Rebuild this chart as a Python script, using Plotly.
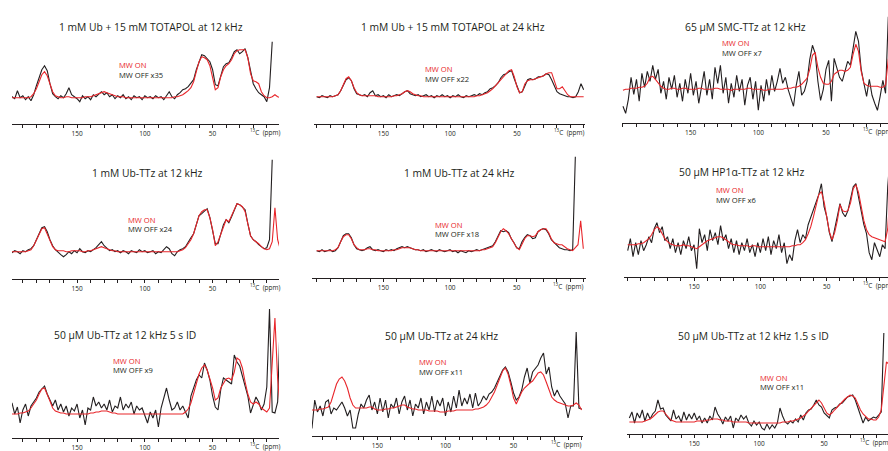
import numpy as np
import plotly.graph_objects as go

N = None  # gap in a trace

# shared 13C chemical-shift grid (ppm), 2 ppm steps from 200 down to 0
ppm = np.arange(200, -1, -2)

titles = [
    "1 mM Ub + 15 mM TOTAPOL at 12 kHz",
    "1 mM Ub + 15 mM TOTAPOL at 24 kHz",
    "65 μM SMC-TTz at 12 kHz",
    "1 mM Ub-TTz at 12 kHz",
    "1 mM Ub-TTz at 24 kHz",
    "50 μM HP1α-TTz at 12 kHz",
    "50 μM Ub-TTz at 12 kHz 5 s ID",
    "50 μM Ub-TTz at 24 kHz",
    "50 μM Ub-TTz at 12 kHz 1.5 s ID",
]
off_scale = ["x35", "x22", "x7", "x24", "x18", "x6", "x9", "x11", "x11"]

# ---- spectra (intensity above baseline), values on the ppm grid ----
ub_totapol_12_off = [
    0, 1, -1, 7, 0, 2, -2, 1, -3, 3,
    12, 20, 28, 32, 27, 14, 4, 1, -1, 2,
    0, 4, 10, 3, 1, -1, -4, 2, -1, 1,
    -2, 3, 1, 4, 6, 3, 5, 1, 3, -1,
    2, 0, 3, -1, 1, -2, 2, 0, 1, -2,
    2, 0, 1, -1, 2, 0, 1, -2, 2, 6,
    1, -1, 3, 5, 8, 9, 11, 14, 18, 28,
    36, 43, 42, 39, 36, 28, 13, 12, 21, 31,
    34, 35, 40, 46, 48, 44, 46, 49, 40, 25,
    14, 9, 5, 3, 1, -4, 10, 56, N, N,
    N]
ub_totapol_12_on = [
    0, 0, 0, 0, 0, 0, 0, 0, 1, 4,
    9, 16, 23, 26, 22, 14, 6, 2, 1, 0,
    0, 1, 1, 0, 0, 0, 0, 0, 1, 1,
    1, 2, 3, 4, 5, 6, 5, 4, 3, 2,
    1, 1, 1, 0, 0, 0, 0, 0, 0, 0,
    0, 0, 0, 0, 0, 0, 0, 0, 0, 0,
    0, 1, 1, 2, 3, 5, 7, 10, 16, 26,
    36, 41, 40, 38, 32, 20, 8, 10, 21, 28,
    32, 34, 38, 44, 47, 48, 48, 48, 40, 24,
    17, 16, 14, 6, 2, 0, 0, 1, 3, 1,
    0]

ub_totapol_24_off = [
    0, -1, 1, 0, -1, 1, 0, 1, 2, 6,
    12, 17, 19, 16, 8, 3, 2, 1, 2, 0,
    4, 6, 1, 2, 0, 1, -1, 2, 0, 1,
    2, 1, 3, 5, 6, 3, 2, 1, 2, 0,
    1, 2, 0, 1, -1, 1, 0, 2, 0, 1,
    -1, 1, 0, 2, 0, -1, 1, 0, 1, 2,
    1, 3, 2, 4, 5, 8, 9, 11, 14, 19,
    22, 23, 25, 26, 18, 10, 4, 5, 12, 17,
    18, 17, 18, 20, 20, 21, 23, 22, 17, 10,
    5, 3, 2, 1, 0, 0, -1, 0, 5, 13,
    7]
ub_totapol_24_on = [
    0, 0, 0, 0, 0, 0, 0, 1, 2, 6,
    12, 18, 20, 16, 9, 4, 2, 1, 1, 1,
    1, 1, 1, 0, 0, 0, 0, 0, 0, 1,
    1, 2, 3, 5, 6, 5, 3, 2, 1, 1,
    0, 0, 0, 0, 0, 0, 0, 0, 0, 0,
    0, 0, 0, 0, 0, 0, 0, 0, 0, 0,
    1, 1, 2, 3, 4, 6, 8, 11, 14, 18,
    21, 24, 26, 27, 20, 10, 4, 5, 13, 16,
    17, 17, 18, 19, 20, 21, 23, 24, 24, 16,
    8, 8, 10, 6, 2, 0, 0, 0, 0, 0,
    0]

smc_ttz_12_off = [
    -17, -24, -10, 12, -5, 10, -12, 16, 2, 18,
    8, 24, 10, 20, -4, 8, -10, 12, 0, 14,
    -8, 6, -12, 10, -4, 16, -6, 8, -14, 4,
    18, -6, 10, -10, 22, 6, 24, -4, 12, -14,
    6, -8, 14, -2, 10, -16, 4, 12, -10, 8,
    -21, 4, -12, 10, -6, 14, -2, 8, 21, 6,
    12, 0, -8, -17, 4, 18, -6, -2, 8, 30,
    44, 36, 8, -11, 0, 20, 29, -12, 31, 20,
    12, 8, 18, 28, 24, 40, 58, 48, 20, 6,
    -7, 10, -6, -14, -21, -7, 9, -4, 72, 72,
    40]
smc_ttz_12_on = [
    -1, 0, 0, 1, 1, 1, 2, 2, 3, 6,
    12, 13, 10, 6, 3, 1, 0, 0, 1, 1,
    0, 0, 1, 1, 0, 0, 0, 0, 1, 1,
    0, 0, 0, 0, 1, 1, 0, 0, 0, 0,
    -1, 0, 0, 0, 0, 0, 1, 1, 0, 0,
    0, 0, -1, -1, 0, 0, 0, 0, 0, 0,
    1, 1, 1, 2, 2, 3, 5, 8, 11, 20,
    34, 37, 22, 12, 6, 5, 5, 8, 15, 17,
    19, 19, 18, 19, 22, 35, 45, 38, 18, 6,
    4, 3, 3, 3, 3, 2, 2, 4, 30, 40,
    40]

ub_ttz_1mM_12_off = [
    0, -1, 1, 0, -2, 1, 0, 2, 3, 6,
    12, 18, 24, 25, 20, 12, 6, 2, -1, -3,
    -5, -3, 0, -2, 1, -1, 3, 0, -1, 1,
    0, 2, 4, 7, 10, 6, 3, 1, 2, 0,
    1, -1, 1, 0, -2, 1, 0, -1, 2, 0,
    1, -1, 0, 1, -2, 0, -1, 2, 5, 3,
    -2, -4, 0, 2, 3, 5, 10, 14, 18, 26,
    36, 38, 41, 43, 34, 22, 8, 8, 18, 27,
    32, 29, 35, 42, 48, 47, 44, 42, 28, 16,
    12, 10, 7, 5, 3, 4, 12, 92, N, N,
    N]
ub_ttz_1mM_12_on = [
    0, 0, 0, 0, 0, 0, 0, 1, 2, 6,
    12, 18, 23, 24, 18, 11, 5, 2, 1, 1,
    1, 0, 0, 1, 1, 1, 1, 0, 0, 1,
    1, 2, 3, 4, 5, 4, 3, 2, 1, 1,
    0, 0, 0, 0, 0, 0, 0, 0, 0, 0,
    0, 0, 0, 0, 0, 0, 0, 0, 0, 0,
    0, 0, 0, 1, 2, 4, 8, 12, 18, 26,
    36, 40, 42, 42, 34, 22, 6, 10, 18, 26,
    32, 30, 36, 42, 48, 47, 45, 40, 28, 16,
    12, 10, 8, 5, 3, 2, 3, 10, 44, 12,
    2]

ub_ttz_1mM_24_off = [
    0, -1, 1, -1, 0, 1, -1, 0, 3, 10,
    15, 17, 17, 13, 6, 2, 1, 0, 1, 3,
    4, 1, 0, 1, 0, -1, 1, 0, 1, 0,
    2, 3, 4, 3, 4, 3, 2, 1, 1, 0,
    1, -1, 0, 1, 0, -1, 1, 0, -1, 0,
    1, -1, 0, -2, 0, -1, -2, 0, -1, 0,
    1, 0, 1, 2, 3, 4, 5, 9, 15, 20,
    19, 20, 18, 12, 8, 3, 2, 9, 13, 16,
    15, 12, 13, 19, 21, 22, 21, 17, 11, 8,
    5, 3, 2, 1, 1, 0, 1, 94, N, N,
    N]
ub_ttz_1mM_24_on = [
    0, 0, 0, 0, 0, 0, 0, 1, 3, 9,
    14, 16, 16, 12, 6, 3, 1, 1, 1, 2,
    2, 1, 1, 0, 0, 0, 0, 0, 0, 1,
    1, 2, 3, 3, 3, 3, 2, 1, 1, 0,
    0, 0, 0, 0, 0, 0, 0, 0, 0, 0,
    0, 0, 0, 0, 0, 0, 0, 0, 0, 0,
    0, 0, 1, 1, 2, 3, 4, 8, 14, 19,
    22, 20, 17, 12, 7, 3, 1, 6, 12, 15,
    15, 14, 15, 19, 21, 22, 22, 18, 12, 8,
    7, 6, 6, 4, 2, 1, 0, 3, 6, 30,
    2]

hp1a_ttz_12_off = [
    -4, 8, -10, 4, -8, 6, -4, 2, 10, 4,
    18, 24, 14, 20, 6, 10, -2, 8, -6, 4,
    -8, 6, -2, 10, -4, 2, -22, 18, 4, 12,
    -4, 17, 6, 14, 2, 21, 6, 12, -2, 8,
    -6, 6, -8, 4, -4, 8, -6, 2, -10, 4,
    -6, 8, -4, 10, -8, 6, -2, 12, -6, 4,
    -17, -8, -14, 6, 17, 4, 12, 8, 22, 30,
    38, 46, 52, 63, 40, 30, 14, 5, 18, 28,
    43, 34, 30, 36, 48, 60, 63, 50, 38, 22,
    13, -6, -13, 4, -3, -10, 2, -2, 60, 95,
    95]
hp1a_ttz_12_on = [
    2, 2, 2, 2, 3, 3, 4, 6, 8, 12,
    17, 20, 18, 13, 8, 5, 3, 2, 1, 1,
    1, 2, 1, 1, 0, -1, -2, 0, 2, 4,
    6, 7, 8, 9, 10, 10, 9, 7, 5, 3,
    2, 2, 1, 1, 1, 1, 0, 1, 1, 0,
    0, 0, 0, 0, 0, 0, 0, 0, 0, 0,
    0, 0, 1, 1, 2, 2, 4, 7, 13, 20,
    30, 40, 52, 55, 45, 30, 15, 7, 14, 26,
    42, 36, 35, 36, 44, 58, 62, 54, 40, 26,
    17, 12, 10, 9, 8, 7, 6, 5, 18, 60,
    70]

ub_ttz_50uM_12_5s_off = [
    8, 11, 0, 7, -9, 4, 10, -2, 8, 12,
    16, 22, 25, 28, 20, 14, 8, 14, 4, 10,
    2, 8, -2, 6, 3, 10, -4, 4, -11, 6,
    4, 17, 8, 12, 6, 10, 4, 14, 2, 8,
    6, 17, 4, 10, 6, 12, 0, 8, 4, 6,
    -2, -9, 2, -4, 4, -13, 6, 17, 26, 14,
    4, 6, 12, 4, 8, 2, -4, 18, 27, 34,
    39, 36, 51, 44, 34, 18, 7, 4, 24, 36,
    34, 32, 30, 59, 52, 48, 38, 30, 18, 1,
    10, 17, 12, 4, 10, 27, 105, 2, 1, 12,
    99]
ub_ttz_50uM_12_5s_on = [
    0, 0, 0, 0, 1, 1, 2, 3, 6, 10,
    14, 20, 25, 26, 20, 13, 6, 3, 2, 1,
    1, 0, 0, 0, 0, 0, 0, 0, 0, 0,
    1, 1, 2, 2, 3, 3, 3, 2, 1, 1,
    0, 0, 0, 0, 0, 0, 0, 0, 0, 0,
    0, 0, 0, 0, 0, 0, 0, 0, 0, 0,
    0, 0, 0, 0, 0, 2, 5, 11, 20, 30,
    40, 46, 49, 44, 36, 26, 14, 16, 26, 31,
    35, 36, 34, 42, 56, 54, 46, 32, 20, 12,
    10, 12, 10, 6, 4, 2, 6, 47, 96, 35,
    4]

ub_ttz_50uM_24_off = [
    -18, -18, 10, -2, 4, -6, 8, 10, -4, 2,
    0, 4, 8, 2, -6, 0, -18, -18, -4, 6,
    2, 10, 15, 0, 8, -4, 12, -2, 10, -8,
    6, 2, 12, -4, 8, 14, 0, 10, -6, 6,
    2, 12, -4, 8, 0, 14, -2, 10, 4, 12,
    -6, 8, -2, 14, 2, 20, 4, 12, 6, 16,
    2, 17, 4, 8, 14, 10, 16, 18, 22, 28,
    35, 40, 43, 38, 28, 17, 10, 13, 20, 33,
    42, 27, 38, 42, 45, 52, 57, 36, 43, 23,
    14, 20, 14, 10, 6, -8, 4, 4, 78, 2,
    1]
ub_ttz_50uM_24_on = [
    0, 0, 0, 0, 1, 1, 2, 3, 8, 16,
    26, 31, 33, 29, 22, 12, 5, 2, 2, 2,
    2, 2, 3, 3, 1, 0, 0, 0, 1, 1,
    2, 2, 3, 4, 5, 5, 3, 2, 1, 1,
    0, 0, 0, 0, -1, -1, -1, -1, -2, -2,
    -2, -1, -1, -1, 0, 0, 0, 0, 0, 0,
    0, 1, 1, 2, 3, 5, 8, 13, 18, 25,
    33, 39, 42, 36, 25, 12, 6, 12, 18, 22,
    25, 27, 29, 33, 37, 38, 35, 28, 20, 13,
    10, 8, 7, 6, 5, 4, 4, 5, 7, 5,
    0]

ub_ttz_50uM_12_1p5s_off = [
    4, 10, -1, 9, 4, 12, 1, 9, 3, 8,
    11, 22, 13, 14, 7, 4, 1, 12, 3, 6,
    0, 10, 2, 8, 3, 9, 2, 6, -1, 4,
    -1, 6, 2, 15, 8, 4, -2, 5, 1, 6,
    -6, 4, 1, 7, 3, 6, -1, -4, 1, -3,
    0, -6, -8, -2, -7, -3, -6, -1, 14, 6,
    0, -2, 1, -1, 3, 0, 7, 2, 9, 12,
    13, 17, 22, 17, 15, 9, 6, 4, 12, 14,
    15, 18, 19, 22, 25, 26, 27, 22, 15, 7,
    -1, 5, 1, 3, 5, 4, 7, 10, 89, N,
    N]
ub_ttz_50uM_12_1p5s_on = [
    0, 0, 0, 0, 0, 0, 1, 2, 3, 5,
    8, 10, 11, 11, 8, 5, 2, 1, 0, 0,
    0, 0, 0, 0, 0, 0, 1, 1, 1, 1,
    2, 2, 3, 3, 3, 2, 2, 1, 1, 1,
    0, 0, 0, 0, 0, 0, -1, -1, -1, -1,
    -1, -1, -1, -1, -1, -1, -1, -1, -1, 0,
    0, 0, 1, 1, 2, 3, 4, 6, 8, 11,
    14, 17, 20, 22, 19, 14, 9, 7, 9, 12,
    15, 18, 21, 23, 25, 27, 26, 24, 18, 12,
    8, 5, 3, 3, 2, 2, 5, 12, 35, 60,
    58]

mw_on = [ub_totapol_12_on, ub_totapol_24_on, smc_ttz_12_on,
         ub_ttz_1mM_12_on, ub_ttz_1mM_24_on, hp1a_ttz_12_on,
         ub_ttz_50uM_12_5s_on, ub_ttz_50uM_24_on, ub_ttz_50uM_12_1p5s_on]
mw_off = [ub_totapol_12_off, ub_totapol_24_off, smc_ttz_12_off,
          ub_ttz_1mM_12_off, ub_ttz_1mM_24_off, hp1a_ttz_12_off,
          ub_ttz_50uM_12_5s_off, ub_ttz_50uM_24_off, ub_ttz_50uM_12_1p5s_off]

# ---- panel placement (pixels): left, right, ppm at left, ppm at right, axis line, baseline ----
frames = [
    (12, 279, 198, 1, 124, 97.7),
    (314, 585, 202, -1, 124, 96.7),
    (622, 888, 200.7, 4.2, 123.3, 89.3),
    (12, 279, 198, 1, 279.3, 251.7),
    (312, 586, 203.5, -2, 278.3, 250.7),
    (624, 888, 202.8, 3.8, 276.7, 246.7),
    (12, 279, 198, 1, 438.3, 414),
    (312, 583, 198, -1, 435.7, 410),
    (627, 888, 201.8, 0.8, 434, 422),
]
title_pos = [(151, 27), (453, 27), (745, 27),
             (147, 173), (459, 173), (741, 172),
             (125, 335), (441, 336), (753, 336)]
legend_pos = [(118, 65, 75), (424, 69, 79), (721, 43, 52.5),
              (127, 220, 229), (434, 224.5, 234), (715, 190, 199.5),
              (112, 361, 370), (418, 362, 371.5), (759, 378, 387)]

W, H = 888, 451
RED = "#e8262b"
INK = "#231f20"
FONT = "Open Sans"

fig = go.Figure()
annotations = []
for i in range(9):
    assert len(mw_on[i]) == len(ppm) and len(mw_off[i]) == len(ppm)
    k = "" if i == 0 else str(i + 1)
    xl, xr, pl, pr, ax_y, base_y = frames[i]
    top = max(0, ax_y - 135)

    fig.add_trace(go.Scatter(x=ppm, y=mw_off[i], mode="lines",
                             line=dict(color=INK, width=1.1),
                             connectgaps=False, hoverinfo="skip",
                             xaxis="x" + k, yaxis="y" + k))
    fig.add_trace(go.Scatter(x=ppm, y=mw_on[i], mode="lines",
                             line=dict(color=RED, width=1.1),
                             hoverinfo="skip",
                             xaxis="x" + k, yaxis="y" + k))

    lo, hi = sorted((pl, pr))
    tv = [v for v in range(0, 201, 10) if lo <= v <= hi]
    tt = [str(v) if v in (50, 100, 150) else "" for v in tv]
    fig.update_layout(**{
        "xaxis" + k: dict(domain=[xl / W, xr / W], range=[pl, pr], anchor="y" + k,
                          showline=True, linecolor=INK, linewidth=1,
                          ticks="outside", ticklen=3, tickwidth=0.8, tickcolor=INK,
                          tickmode="array", tickvals=tv, ticktext=tt,
                          tickfont=dict(size=6.5, family=FONT, color=INK),
                          showgrid=False, zeroline=False, fixedrange=True),
        "yaxis" + k: dict(domain=[1 - ax_y / H, 1 - top / H],
                          range=[base_y - ax_y, base_y - top], anchor="x" + k,
                          visible=False, fixedrange=True),
    })

    cx, cy = title_pos[i]
    annotations.append(dict(text=titles[i], xref="paper", yref="paper",
                            x=cx / W, y=1 - cy / H, xanchor="center", yanchor="middle",
                            showarrow=False, font=dict(size=10.3, family=FONT, color=INK)))
    lx, ly_on, ly_off = legend_pos[i]
    annotations.append(dict(text="MW ON", xref="paper", yref="paper",
                            x=lx / W, y=1 - ly_on / H, xanchor="left", yanchor="middle",
                            showarrow=False, borderpad=0,
                            font=dict(size=7.6, family=FONT, color=RED)))
    annotations.append(dict(text="MW OFF " + off_scale[i], xref="paper", yref="paper",
                            x=lx / W, y=1 - ly_off / H, xanchor="left", yanchor="middle",
                            showarrow=False, borderpad=0,
                            font=dict(size=7.6, family=FONT, color=INK)))
    annotations.append(dict(text="<sup>13</sup>C  (ppm)", xref="x" + k, yref="paper",
                            x=24, y=1 - (ax_y + 8) / H, xanchor="left", yanchor="middle",
                            showarrow=False, font=dict(size=6.5, family=FONT, color=INK)))

fig.update_layout(width=W, height=H, margin=dict(l=0, r=0, t=0, b=0),
                  paper_bgcolor="white", plot_bgcolor="white",
                  showlegend=False, annotations=annotations)

fig.write_html("out.html")
